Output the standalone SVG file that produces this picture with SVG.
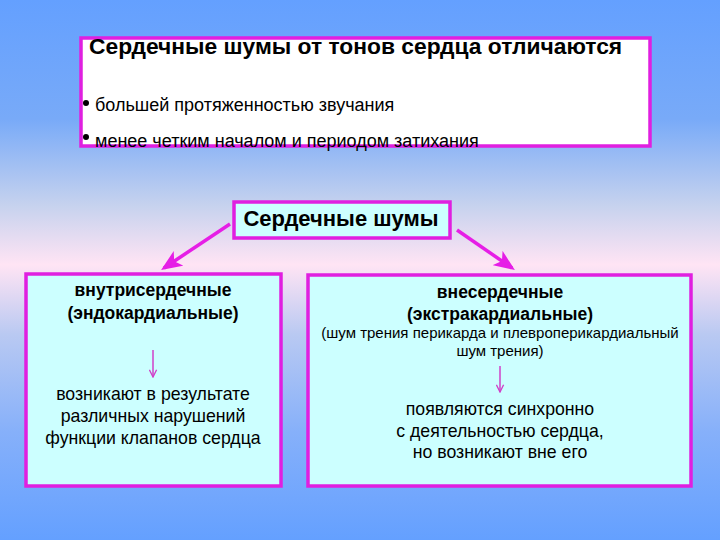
<svg xmlns="http://www.w3.org/2000/svg" width="720" height="540" viewBox="0 0 720 540">
<defs>
<linearGradient id="bg" x1="0" y1="0" x2="0" y2="1">
<stop offset="0" stop-color="#64a0ff"/>
<stop offset="0.22" stop-color="#78aaf8"/>
<stop offset="0.38" stop-color="#c6d2ee"/>
<stop offset="0.49" stop-color="#ffe4f4"/>
<stop offset="0.62" stop-color="#b9c9f2"/>
<stop offset="0.8" stop-color="#86b0fa"/>
<stop offset="1" stop-color="#64a0ff"/>
</linearGradient>
<marker id="ah" viewBox="0 0 12 10" refX="10" refY="5" markerWidth="6" markerHeight="5" orient="auto" markerUnits="strokeWidth">
<path d="M0,0 L12,5 L0,10 L3,5 Z" fill="#e61ee6"/>
</marker>
<marker id="sa" viewBox="0 0 10 10" refX="9" refY="5" markerWidth="9" markerHeight="9" orient="auto" markerUnits="userSpaceOnUse">
<path d="M1,1 L9,5 L1,9" fill="none" stroke="#d040c8" stroke-width="1.5"/>
</marker>
</defs>
<style>
.box{stroke:#e01fe0;stroke-width:3.5}
.t{font-family:"Liberation Sans",Arial,sans-serif;fill:#000}
.b{font-weight:bold}
.c{text-anchor:middle}
</style>
<rect width="720" height="540" fill="url(#bg)"/>
<g id="top-box">
<rect class="box" x="81" y="38" width="569" height="108" fill="#ffffff"/>
<text class="t b" x="89" y="54" font-size="22.8">Сердечные шумы от тонов сердца отличаются</text>
<circle cx="86" cy="103" r="3" fill="#000"/>
<text class="t" x="95" y="111" font-size="18">большей протяженностью звучания</text>
<circle cx="86" cy="137" r="3" fill="#000"/>
<text class="t" x="95" y="147" font-size="18">менее четким началом и периодом затихания</text>
</g>
<g id="center-box">
<rect class="box" x="234" y="202" width="216" height="36" fill="#ccffff"/>
<text class="t b c" x="341" y="226" font-size="22">Сердечные шумы</text>
</g>
<g id="left-box">
<rect class="box" x="26" y="274" width="255" height="212" fill="#ccffff"/>
<text class="t b c" x="153" y="296" font-size="17.5">внутрисердечные</text>
<text class="t b c" x="153" y="319" font-size="17.5">(эндокардиальные)</text>
<line x1="153" y1="350" x2="153" y2="377" stroke="#d040c8" stroke-width="1.5" marker-end="url(#sa)"/>
<text class="t c" x="153" y="400" font-size="17.7">возникают в результате</text>
<text class="t c" x="153" y="422" font-size="17.7">различных нарушений</text>
<text class="t c" x="153" y="444" font-size="17.7">функции клапанов сердца</text>
</g>
<g id="right-box">
<rect class="box" x="308" y="275" width="383" height="211" fill="#ccffff"/>
<text class="t b c" x="500" y="298" font-size="17.5">внесердечные</text>
<text class="t b c" x="500" y="320" font-size="17.5">(экстракардиальные)</text>
<text class="t c" x="500" y="338" font-size="15">(шум трения перикарда и плевроперикардиальный</text>
<text class="t c" x="500" y="356" font-size="15">шум трения)</text>
<line x1="500" y1="366" x2="500" y2="392" stroke="#d040c8" stroke-width="1.5" marker-end="url(#sa)"/>
<text class="t c" x="500" y="415" font-size="17.7">появляются синхронно</text>
<text class="t c" x="500" y="437" font-size="17.7">с деятельностью сердца,</text>
<text class="t c" x="500" y="458" font-size="17.7">но возникают вне его</text>
</g>
<g id="connectors" stroke="#e61ee6" stroke-width="3.5" fill="none">
<line x1="230" y1="224" x2="164" y2="268" marker-end="url(#ah)"/>
<line x1="457" y1="230" x2="512" y2="268" marker-end="url(#ah)"/>
</g>
</svg>
